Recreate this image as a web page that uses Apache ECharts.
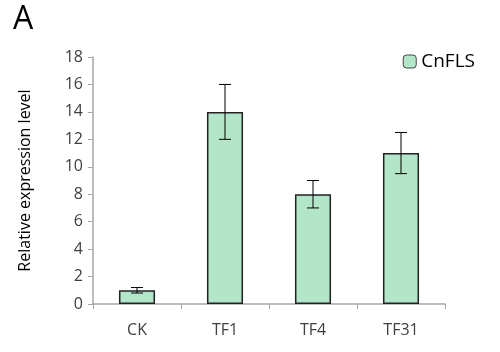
<!DOCTYPE html>
<html>
<head>
<meta charset="utf-8">
<script src="https://cdn.jsdelivr.net/npm/echarts@6/dist/echarts.min.js"></script>
<style>
  html, body { margin: 0; padding: 0; background: #fff; }
  #chart { width: 500px; height: 352px; }
</style>
</head>
<body>
<div id="chart"></div>
<script>
const categories = ['CK', 'TF1', 'TF4', 'TF31']
const values = [1, 14, 8, 11]
const errors = [0.2, 2, 1, 1.5]
const yTicks = [0, 2, 4, 6, 8, 10, 12, 14, 16, 18]

const font = '"Open Sans", "Liberation Sans", sans-serif'

// error bar data: [index, low, high]
const errData = values.map((v, i) => [i, v - errors[i], v + errors[i]])

const chart = echarts.init(document.getElementById('chart'))
chart.setOption({
    animation: false,
    graphic: [{
        type: 'text',
        left: 13,
        top: 4,
        style: { text: 'A', font: '32px ' + font, fill: '#000' }
    }],
    legend: {
        data: ['CnFLS'],
        right: 20,
        top: 47,
        itemWidth: 13,
        itemHeight: 13,
        itemGap: 6,
        itemStyle: { borderWidth: 1, borderColor: '#444' },
        textStyle: { fontFamily: font, fontSize: 19, color: '#000' }
    },
    grid: { left: 93, right: 55, top: 57, bottom: 48 },
    xAxis: {
        type: 'category',
        data: categories,
        axisLine: { lineStyle: { color: '#a6a6a6', width: 1.5 } },
        axisTick: { show: true, length: 5, lineStyle: { color: '#a6a6a6' } },
        axisLabel: { fontFamily: font, fontSize: 16, color: '#404040', margin: 18 }
    },
    yAxis: {
        type: 'value',
        min: yTicks[0],
        max: yTicks[yTicks.length - 1],
        interval: 2,
        name: 'Relative expression level',
        nameLocation: 'middle',
        nameGap: 60,
        nameTextStyle: { fontFamily: font, fontSize: 16, color: '#000' },
        axisLine: { show: true, lineStyle: { color: '#a6a6a6', width: 1.5 } },
        axisTick: { show: true, length: 5, lineStyle: { color: '#a6a6a6' } },
        splitLine: { show: false },
        axisLabel: { fontFamily: font, fontSize: 16, color: '#404040', margin: 10 }
    },
    series: [
        {
            name: 'CnFLS',
            type: 'bar',
            data: values,
            barWidth: '41%',
            itemStyle: { color: '#b3e6c9', borderColor: '#222', borderWidth: 1.5 }
        },
        {
            type: 'custom',
            data: errData,
            z: 10,
            renderItem: function (params, api) {
                const x = api.value(0)
                const lo = api.coord([x, api.value(1)])
                const hi = api.coord([x, api.value(2)])
                const half = 6
                const style = { stroke: '#000', lineWidth: 1 }
                return {
                    type: 'group',
                    children: [
                        { type: 'line', shape: { x1: lo[0], y1: lo[1], x2: hi[0], y2: hi[1] }, style: style },
                        { type: 'line', shape: { x1: lo[0] - half, y1: lo[1], x2: lo[0] + half, y2: lo[1] }, style: style },
                        { type: 'line', shape: { x1: hi[0] - half, y1: hi[1], x2: hi[0] + half, y2: hi[1] }, style: style }
                    ]
                }
            }
        }
    ]
})
</script>
</body>
</html>
